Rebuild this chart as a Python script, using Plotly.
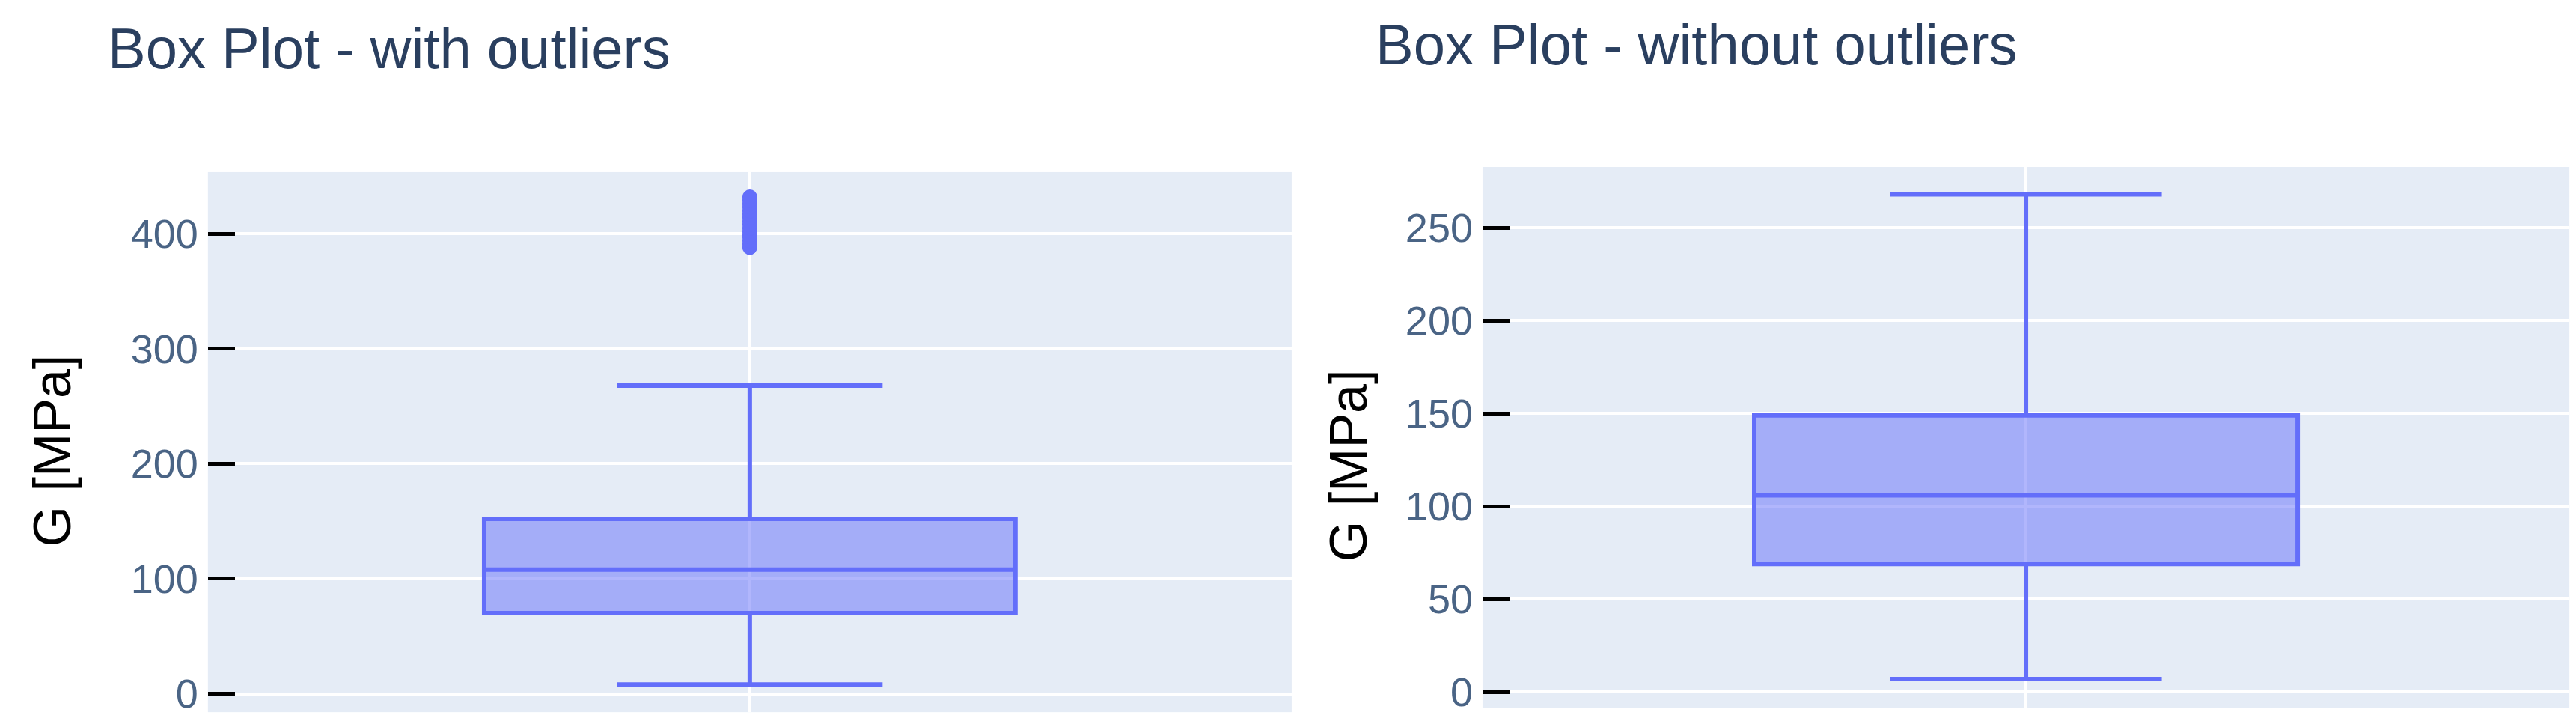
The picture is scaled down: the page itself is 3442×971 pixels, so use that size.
import plotly.graph_objects as go

# box statistics (G in MPa)
with_q1, with_median, with_q3 = 70, 108, 152
with_lower, with_upper = 8, 268
with_outliers = [388, 391, 394, 397, 399, 402, 405, 408, 411, 414, 417, 420, 423, 426, 429, 432]

without_q1, without_median, without_q3 = 69, 106, 149
without_lower, without_upper = 7, 268

left_ticks = [0, 100, 200, 300, 400]
right_ticks = [0, 50, 100, 150, 200, 250]

titles = ["Box Plot - with outliers", "Box Plot - without outliers"]
y_title = "G [MPa]"

FONT = "Liberation Sans, Arial, sans-serif"
BLUE = "#636efa"

fig = go.Figure()

fig.add_trace(go.Box(
    x=[0], q1=[with_q1], median=[with_median], q3=[with_q3],
    lowerfence=[with_lower], upperfence=[with_upper],
    width=0.7, line=dict(color=BLUE, width=6), fillcolor="rgba(99,110,250,0.5)",
    xaxis="x", yaxis="y", showlegend=False,
))
fig.add_trace(go.Scatter(
    x=[0] * len(with_outliers), y=with_outliers, mode="markers",
    marker=dict(color=BLUE, size=20, line=dict(width=0)),
    xaxis="x", yaxis="y", showlegend=False,
))
fig.add_trace(go.Box(
    x=[0], q1=[without_q1], median=[without_median], q3=[without_q3],
    lowerfence=[without_lower], upperfence=[without_upper],
    width=0.7, line=dict(color=BLUE, width=6), fillcolor="rgba(99,110,250,0.5)",
    xaxis="x2", yaxis="y2", showlegend=False,
))

xcommon = dict(showticklabels=False, tickvals=[0], showgrid=True, gridcolor="white",
               gridwidth=4, zeroline=False, ticks="")
ycommon = dict(ticks="inside", ticklen=36, tickwidth=5, tickcolor="black",
               showgrid=True, gridcolor="white", gridwidth=4,
               zeroline=True, zerolinecolor="white", zerolinewidth=4,
               tickfont=dict(family=FONT, size=54, color="#4a6485"),
               ticklabelstandoff=12)

fig.update_layout(
    width=3442, height=971,
    margin=dict(l=0, r=0, t=0, b=0),
    paper_bgcolor="white", plot_bgcolor="#E5ECF6",
    xaxis=dict(domain=[0.0784, 0.4991], range=[-0.714, 0.714], anchor="y", **xcommon),
    yaxis=dict(domain=[0.0196, 0.7693], range=[-16, 453.5], tickvals=left_ticks,
               anchor="x", **ycommon),
    xaxis2=dict(domain=[0.5732, 0.9951], range=[-0.7, 0.7], anchor="y2", **xcommon),
    yaxis2=dict(domain=[0.0257, 0.7765], range=[-8.4, 282.7], tickvals=right_ticks,
                anchor="x2", **ycommon),
    annotations=[
        dict(text=titles[0], x=134 / 3442, y=1 - 57 / 971, xref="paper", yref="paper",
             xanchor="left", yanchor="middle", showarrow=False,
             font=dict(family=FONT, size=76, color="#2a3f5f")),
        dict(text=titles[1], x=1828 / 3442, y=1 - 52 / 971, xref="paper", yref="paper",
             xanchor="left", yanchor="middle", showarrow=False,
             font=dict(family=FONT, size=76, color="#2a3f5f")),
        dict(text=y_title, x=62 / 3442, y=1 - 600 / 971, xref="paper", yref="paper",
             xanchor="center", yanchor="middle", textangle=-90, showarrow=False,
             font=dict(family=FONT, size=70, color="black")),
        dict(text=y_title, x=1794 / 3442, y=1 - 620 / 971, xref="paper", yref="paper",
             xanchor="center", yanchor="middle", textangle=-90, showarrow=False,
             font=dict(family=FONT, size=70, color="black")),
    ],
)

fig.write_html("out.html")
